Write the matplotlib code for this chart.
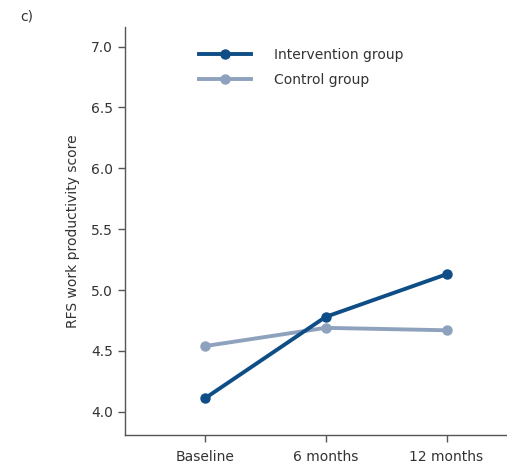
import matplotlib
matplotlib.use("Agg")
import matplotlib.pyplot as plt

timepoints = ["Baseline", "6 months", "12 months"]
intervention = [4.11, 4.78, 5.13]
control = [4.54, 4.69, 4.67]
yticks = [4.0, 4.5, 5.0, 5.5, 6.0, 6.5, 7.0]

dark_blue = "#0e4d85"
light_blue = "#8fa2bd"
axis_col = "#555555"
text_col = "#333333"

fig = plt.figure(figsize=(5.07, 4.66), dpi=100)
ax = fig.add_axes([0.2465, 0.0665, 0.7535, 0.8755])

x = list(range(len(timepoints)))
ax.plot(x, intervention, color=dark_blue, lw=2.8, marker="o", ms=6.5,
        label="Intervention group", zorder=3)
ax.plot(x, control, color=light_blue, lw=2.8, marker="o", ms=6.5,
        label="Control group", zorder=2)

ax.set_xlim(-0.66, 2.5)
ax.set_ylim(3.81, 7.16)
ax.set_xticks(x)
ax.set_xticklabels(timepoints)
ax.set_yticks(yticks)
ax.set_yticklabels([f"{v:.1f}" for v in yticks])

for s in ["top", "right"]:
    ax.spines[s].set_visible(False)
for s in ["left", "bottom"]:
    ax.spines[s].set_color(axis_col)
    ax.spines[s].set_linewidth(1.0)
ax.tick_params(axis="both", colors=axis_col, labelcolor=text_col,
               labelsize=10, length=5, width=1.0)
ax.tick_params(axis="x", pad=6)

ax.set_ylabel("RFS work productivity score", fontsize=10, color=text_col,
              labelpad=8)

leg = ax.legend(loc="upper left", bbox_to_anchor=(0.16, 0.98), frameon=False,
                fontsize=10, handlelength=3.8, handletextpad=1.6,
                labelspacing=0.8, labelcolor=text_col)

fig.text(0.04, 0.955, "c)", fontsize=10, color=text_col)

fig.savefig("out.png", dpi=100)
